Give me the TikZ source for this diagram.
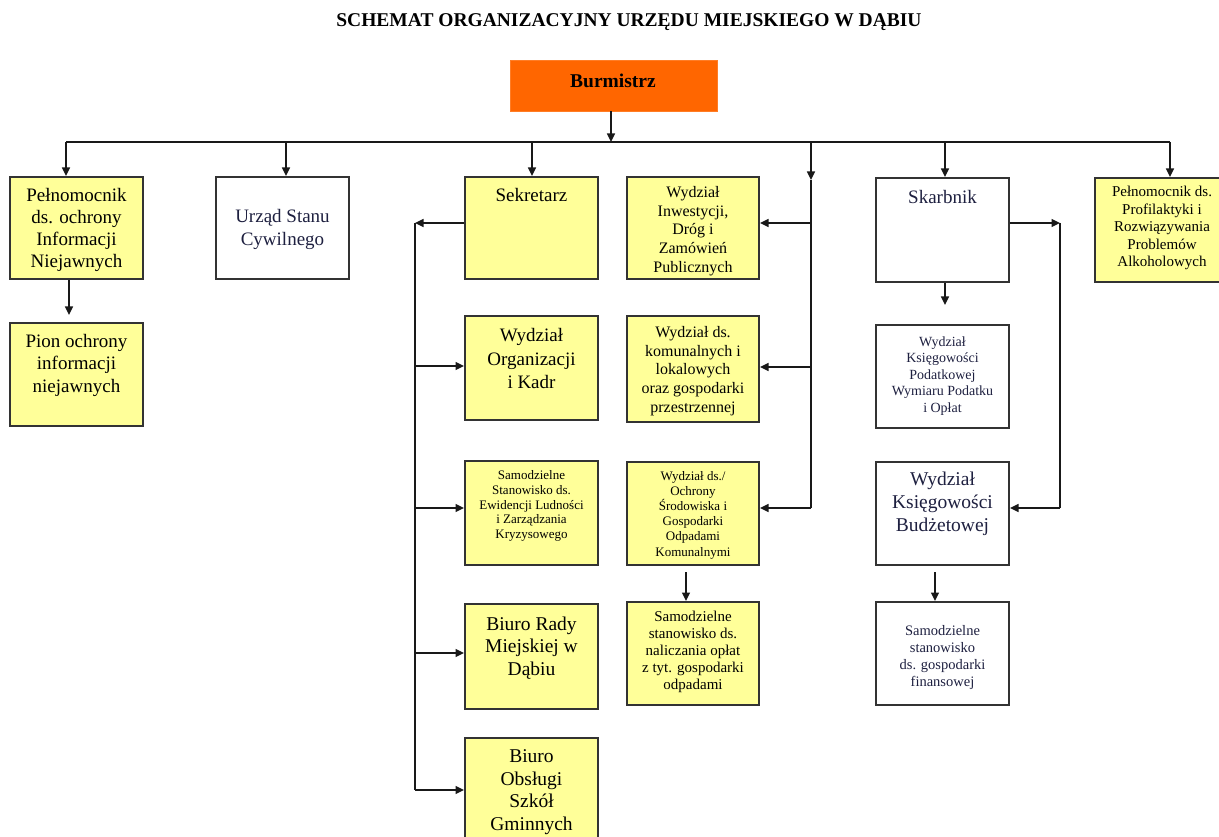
\documentclass[tikz,border=0pt]{standalone}
\usepackage{fontspec}
\setmainfont{Liberation Serif}
\usetikzlibrary{arrows.meta,fit}
\definecolor{boxyellow}{HTML}{FFFF99}
\definecolor{burm}{HTML}{FF6600}
\definecolor{edge}{HTML}{333333}
\definecolor{navytext}{HTML}{1E2040}
\tikzset{
 ybox/.style={draw=edge, line width=2pt, fill=boxyellow, inner sep=0pt},
 wbox/.style={draw=edge, line width=2pt, fill=white, inner sep=0pt},
 lbl/.style={align=center, inner sep=0pt, text=black},
 wlbl/.style={lbl, text=navytext},
 fs/.style 2 args={font=\fontsize{#1}{#2}\selectfont},
 conn/.style={line width=1.4pt, draw=black!90},
 arr/.style={conn, -{Triangle[length=8.5pt,width=8pt]}},
}
\begin{document}
\begin{tikzpicture}[x=1pt,y=-1pt]
\useasboundingbox (0,0) rectangle (1219,837);

% title
\node[lbl, font=\fontsize{19.5}{22}\selectfont\bfseries] (title) at (629,22) {SCHEMAT ORGANIZACYJNY URZĘDU MIEJSKIEGO W DĄBIU};

% Burmistrz
\node[fill=burm, draw=burm!85!white, line width=0.8pt, inner sep=0pt, fit={(510,60)(717,111)}] (burm) {};
\node[lbl, font=\fontsize{19.5}{22}\selectfont\bfseries] (burm-t) at (613,81) {Burmistrz};

% boxes
\node[ybox, fit={(10,177)(143,279)}] (pel1) {};
\node[ybox, fit={(10,323)(143,426)}] (pion) {};
\node[wbox, fit={(216,177)(349,279)}] (usc) {};
\node[ybox, fit={(465,177)(598,279)}] (sek) {};
\node[ybox, fit={(627,177)(759,279)}] (inw) {};
\node[wbox, fit={(876,178)(1009,282)}] (skarb) {};
\node[ybox, fit={(1095,178)(1228,282)}] (prof) {};
\node[ybox, fit={(465,316)(598,420)}] (org) {};
\node[ybox, fit={(627,316)(759,422)}] (kom) {};
\node[wbox, fit={(876,325)(1009,428)}] (pod) {};
\node[ybox, fit={(465,461)(598,565)}] (ewid) {};
\node[ybox, fit={(627,462)(759,565)}] (ochr) {};
\node[wbox, fit={(876,462)(1009,565)}] (bud) {};
\node[ybox, fit={(465,604)(598,709)}] (rady) {};
\node[ybox, fit={(627,602)(759,705)}] (nal) {};
\node[wbox, fit={(876,602)(1009,705)}] (fin) {};
\node[ybox, fit={(465,738)(598,850)}] (szk) {};

% texts
\node[lbl, fs={19}{22}] (pel1-t) at (76.5,230) {Pełnomocnik\\ds. ochrony\\Informacji\\Niejawnych};
\node[lbl, fs={19}{22.5}] (pion-t) at (76.5,365) {Pion ochrony\\informacji\\niejawnych};
\node[wlbl, fs={19}{23}] (usc-t) at (282.5,229) {Urząd Stanu\\Cywilnego};
\node[lbl, fs={19}{22}] (sek-t) at (531.5,195) {Sekretarz};
\node[lbl, fs={16}{18.7}] (inw-t) at (693,231) {Wydział\\Inwestycji,\\Dróg i\\Zamówień\\Publicznych};
\node[wlbl, fs={19}{22}] (skarb-t) at (942.5,197) {Skarbnik};
\node[lbl, fs={15}{17.5}] (prof-t) at (1162,228) {Pełnomocnik ds.\\Profilaktyki i\\Rozwiązywania\\Problemów\\Alkoholowych};
\node[lbl, fs={19}{23.5}] (org-t) at (531.5,359) {Wydział\\Organizacji\\i Kadr};
\node[lbl, fs={16}{18.7}] (kom-t) at (693,371) {Wydział ds.\\komunalnych i\\lokalowych\\oraz gospodarki\\przestrzennej};
\node[wlbl, fs={14}{16.5}] (pod-t) at (942.5,376) {Wydział\\Księgowości\\Podatkowej\\Wymiaru Podatku\\i Opłat};
\node[lbl, fs={13}{14.8}] (ewid-t) at (531.5,506) {Samodzielne\\Stanowisko ds.\\Ewidencji Ludności\\i Zarządzania\\Kryzysowego};
\node[lbl, fs={13}{15.2}] (ochr-t) at (693,515) {Wydział ds./\\Ochrony\\Środowiska i\\Gospodarki\\Odpadami\\Komunalnymi};
\node[wlbl, fs={19.5}{23}] (bud-t) at (942.5,504) {Wydział\\Księgowości\\Budżetowej};
\node[lbl, fs={19.5}{22.5}] (rady-t) at (531.5,648) {Biuro Rady\\Miejskiej w\\Dąbiu};
\node[lbl, fs={15}{17}] (nal-t) at (693,652) {Samodzielne\\stanowisko ds.\\naliczania opłat\\z tyt. gospodarki\\odpadami};
\node[wlbl, fs={14.5}{17}] (fin-t) at (942.5,658) {Samodzielne\\stanowisko\\ds. gospodarki\\finansowej};
\node[lbl, fs={19.5}{22.5}] (szk-t) at (531.5,792) {Biuro\\Obsługi\\Szkół\\Gminnych};

% main bar
\coordinate (bL) at (66,142);
\coordinate (bR) at (1170,142);
\coordinate (j0) at (611,142);
\draw[arr] (burm.south -| j0) -- (j0);
\draw[conn, line width=1.8pt] (bL) -- (bR);
\draw[arr] (bL) -- (bL |- pel1.north);
\coordinate (jU) at (286,142);
\draw[arr] (jU) -- (jU |- usc.north);
\coordinate (jS) at (532,142);
\draw[arr] (jS) -- (jS |- sek.north);
\coordinate (jK) at (945,142);
\draw[arr] (jK) -- (jK |- skarb.north);
\draw[arr] (bR) -- (bR |- prof.north);

% right line of departments
\coordinate (jW) at (811,142);
\coordinate (jWa) at (811,180);
\coordinate (jWe) at (811,508);
\draw[arr] (jW) -- (jWa);
\draw[conn] (jWa) -- (jWe);
\coordinate (w1) at (811,223);
\coordinate (w2) at (811,367);
\draw[arr] (w1) -- (w1 -| inw.east);
\draw[arr] (w2) -- (w2 -| kom.east);
\draw[arr] (jWe) -- (jWe -| ochr.east);

% Sekretarz
\coordinate (sT) at (415,223);
\coordinate (sB) at (415,790);
\draw[arr] (sT -| sek.west) -- (sT);
\draw[conn] (sT) -- (sB);
\coordinate (s1) at (415,366);
\coordinate (s2) at (415,508);
\coordinate (s3) at (415,653);
\draw[arr] (s1) -- (s1 -| org.west);
\draw[arr] (s2) -- (s2 -| ewid.west);
\draw[arr] (s3) -- (s3 -| rady.west);
\draw[arr] (sB) -- (sB -| szk.west);

% Skarbnik
\coordinate (kT) at (1060,223);
\coordinate (kB) at (1060,508);
\draw[arr] (kT -| skarb.east) -- (kT);
\draw[conn] (kT) -- (kB);
\draw[arr] (kB) -- (kB -| bud.east);

% short vertical arrows
\coordinate (pa) at (69,315);
\draw[arr] (pa |- pel1.south) -- (pa);
\coordinate (ka) at (945,305);
\draw[arr] (ka |- skarb.south) -- (ka);
\coordinate (oa) at (686,572);
\draw[arr] (oa) -- (oa |- nal.north);
\coordinate (ba) at (935,572);
\draw[arr] (ba) -- (ba |- fin.north);
\end{tikzpicture}
\end{document}
